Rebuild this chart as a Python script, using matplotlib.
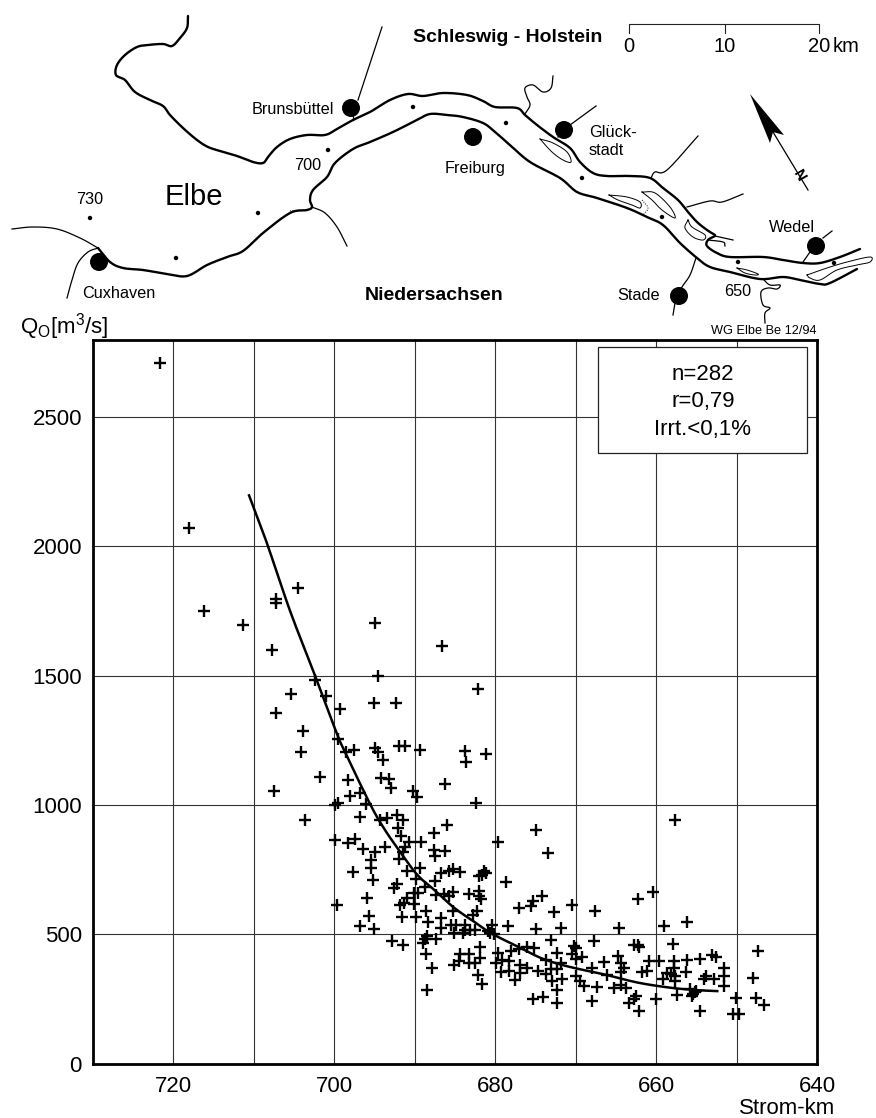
import numpy as np
import matplotlib
matplotlib.use("Agg")
import matplotlib.pyplot as plt
from matplotlib.patches import Polygon, Circle, Rectangle

plt.rcParams['font.family'] = ['Liberation Sans', 'DejaVu Sans']
plt.rcParams['mathtext.fontset'] = 'custom'
plt.rcParams['mathtext.rm'] = 'Liberation Sans'
plt.rcParams['mathtext.it'] = 'Liberation Sans'
plt.rcParams['mathtext.default'] = 'rm'

# --- scatter data: (Strom-km, Q0 m3/s)
points = [
(721.7,2708),(718.1,2070),(716.2,1751),(711.4,1694),
(704.5,1839),(707.3,1798),(707.3,1779),(694.9,1704),(686.6,1616),(707.7,1601),(702.4,1485),(694.6,1498),
(682.1,1450),(705.4,1429),(701.0,1422),(695.1,1394),(692.3,1394),(699.3,1371),(707.2,1354),(703.9,1286),
(699.5,1255),(698.6,1203),(697.5,1214),(704.1,1203),(694.9,1221),(694.6,1206),(693.9,1174),(691.9,1226),
(691.2,1226),(689.3,1212),(683.8,1208),(683.6,1167),(681.1,1196),(701.8,1108),(698.3,1098),(694.2,1103),
(693.2,1100),(692.9,1064),(707.5,1052),(698.0,1036),(696.8,1045),(690.2,1052),(689.7,1030),(686.2,1079),
(682.4,1008),(696.1,1003),(699.9,1000),(699.5,1006),(696.8,952),(703.6,942),(694.3,940),(693.4,949),
(692.2,961),(691.5,942),(692.1,910),(686.0,923),(687.6,893),
(691.7,878),(690.7,856),(689.2,856),(693.7,839),(687.6,824),(686.2,820),(687.5,801),(691.2,836),(691.5,818),
(691.9,791),(691.0,746),(689.3,756),(689.8,715),(692.2,695),(692.6,679),(687.5,707),(686.8,737),(685.8,743),
(685.2,751),(684.4,740),(682.0,724),(681.4,743),(681.6,730),(681.2,737),(678.6,702),(688.7,683),(690.1,659),
(689.6,659),(691.0,640),(691.4,621),(691.8,614),(690.1,618),(687.4,653),(686.4,656),(685.8,647),(685.3,663),
(683.2,656),(682.0,666),(682.0,647),(681.8,636),(688.6,589),(685.2,591),(682.3,591),(682.8,576),(691.6,566),
(689.8,567),(688.3,548),(686.8,561),(686.8,525),(685.5,537),(684.9,537),(683.7,534),(683.7,518),(683.1,518),
(682.5,518),(685.1,505),(684.0,503),(680.9,514),(680.4,534),(680.2,499),(680.6,505),(678.4,531),(677.1,602),
(675.6,611),(675.3,627),(674.2,647),(672.7,585),(670.5,614),(674.9,521),(671.8,525),(673.1,477),(674.9,904),
(673.5,816),(679.7,856),(692.8,473),(691.5,460),(688.7,480),(688.5,492),(689.0,467),(687.4,480),(688.6,424),
(687.8,368),(688.5,284),(684.4,422),(683.3,424),(681.9,450),(681.9,409),(684.5,396),(685.1,381),(683.3,390),
(682.5,390),(682.2,342),(681.6,306),(679.7,426),(679.9,390),(679.2,402),(678.3,396),(678.1,435),(677.1,444),
(676.0,451),(675.2,447),(679.3,354),(678.3,357),(676.9,381),(676.0,370),(676.9,351),(677.5,321),(674.7,357),
(673.7,345),(673.7,402),(673.1,364),(672.3,364),(672.9,319),(671.7,325),(672.3,426),(671.8,390),(670.2,454),
(670.4,422),(670.0,338),(672.3,284),(675.3,251),(674.1,257),(672.3,233),
(657.7,942),(660.4,662),(662.3,638),(667.6,589),(664.6,523),(659.0,531),(656.1,549),(667.7,473),(657.9,464),
(662.7,460),(662.3,458),(662.1,450),(670.0,447),(669.2,413),(670.0,405),(664.7,415),(666.5,393),(664.4,390),
(664.0,370),(664.4,354),(668.0,370),(666.1,341),(669.4,319),(669.0,300),(667.4,297),(665.2,293),(664.4,302),
(663.8,293),(668.0,242),(662.5,261),(663.4,235),(662.7,248),(662.1,203),(661.7,354),(660.9,396),(661.1,357),
(659.6,396),(659.1,325),(658.6,351),(657.8,396),(657.8,370),(658.2,345),(657.6,338),(656.3,354),(656.2,400),
(654.6,405),(657.6,319),(660.0,248),(657.4,265),(655.8,287),(655.0,280),(655.5,261),(655.4,268),(655.2,277),
(654.6,203),(653.0,419),(652.5,413),(651.5,370),(651.5,338),(653.8,338),(654.0,325),(652.8,325),(651.5,300),
(650.1,255),(650.5,190),(649.7,190),(647.3,435),(648.0,332),(647.6,255),(646.6,226),
(699.9,865),(698.3,852),(697.4,869),(696.4,829),(694.9,818),(695.4,788),(695.4,756),(697.7,740),(695.2,711),
(695.9,640),(699.7,613),(695.7,569),(696.8,531),(695.1,521),
]
curve_km = [710.6,708.5,705.5,702.4,699.7,698.6,695.5,693.7,691.8,689.7,687.6,685.1,682.7,680.6,677.3,674.4,671.9,669.4,666.5,662.3,658.2,655.0,652.4]
curve_q  = [2197,2023,1750,1500,1277,1200,1000,903,818,730,672,602,550,505,454,409,383,364,345,313,293,284,280]

x_ticks = [720,710,700,690,680,670,660,650,640]
x_labels = ['720','','700','','680','','660','','640']
y_ticks = [0,500,1000,1500,2000,2500]
stats_lines = ['n=282','r=0,79','Irrt.<0,1%']

# --- map outlines, in map-sheet coordinates
north_bank_a = [(188,16),(187,28),(180,38),(172,46),(163,44),(148,45),(137,47),(125,55),(117,65),(116,75),(125,80),(135,92),(150,100),(163,106),(170,115),(183,128),(197,140),(208,147),(220,151),(237,156),(253,162),(263,163),(268,157),(277,147),(290,139),(307,135),(325,135),(337,129),(353,120),(370,112),(390,100),(408,94),(423,96),(443,93),(467,95),(483,101),(495,107),(517,108),(525,115),(537,125),(553,137),(570,148),(580,162),(593,173),(607,176),(630,176),(650,178),(663,188),(678,200),(688,212),(697,222),(707,230),(715,235)]
north_bank_b = [(715,236),(708,240),(707,246),(717,253),(730,257),(763,257),(783,260),(803,263),(820,263),(840,257),(860,249)]
south_bank = [(98,248),(110,262),(123,268),(143,270),(167,274),(187,276),(207,265),(227,257),(243,251),(263,233),(290,213),(307,210),(312,207),(310,200),(313,190),(327,177),(335,163),(353,149),(370,142),(393,132),(417,120),(430,114),(447,115),(463,117),(483,123),(495,132),(510,145),(530,162),(560,178),(577,192),(597,198),(627,208),(647,217),(663,225),(680,243),(697,258),(710,267),(730,272),(760,279),(783,277),(800,280),(820,284),(830,283),(857,269)]
thin_lines = [
    [(12,229),(33,227),(57,229),(80,238),(98,248)],
    [(67,298),(72,280),(78,263),(88,252),(98,248)],
    [(312,207),(325,213),(337,227),(347,246)],
    [(553,76),(551,88),(543,92),(533,85),(525,88),(527,97),(530,105),(525,114)],
    [(698,136),(667,170),(655,172),(651,178)],
    [(743,194),(722,202),(710,201),(687,207)],
    [(715,236),(733,240)],
    [(708,240),(723,242),(725,246)],
    [(696,258),(690,275),(682,287),(678,296)],
    [(763,279),(770,285),(780,285),(777,289),(768,288),(761,292),(763,305),(770,308),(765,313),(765,323)],
]
straight_lines = [
    [(382,27),(358,100)],[(353,113),(353,120)],
    [(596,106),(570,125)],[(558,137),(560,134)],
    [(832,231),(823,238)],[(810,252),(803,262)],
    [(675,303),(673,315)],[(773,132),(808,190)],
]
islands = [
    [(540,139),(553,143),(567,152),(571,162),(563,160),(552,152)],
    [(609,195),(627,197),(640,202),(640,208),(632,205),(618,200)],
    [(642,192),(655,193),(670,207),(675,218),(662,210),(652,200)],
    [(688,220),(692,227),(705,235),(703,240),(693,237),(685,228)],
    [(737,268),(747,270),(758,274),(755,275),(745,273)],
    [(807,275),(827,268),(847,262),(870,257),(870,262),(857,265),(837,270),(820,280),(810,278)],
]
dotted_lines = [[(642,200),(648,208),(643,215)],[(290,211),(300,210)]]
towns = [(351,108),(99,262),(473,137),(564,130),(679,296),(816,246)]
km_marks = [(90,218),(176,258),(258,213),(328,150),(413,107),(506,123),(582,178),(662,217),(738,262),(834,263)]
arrow_head = [(750,94),(784,135),(773,132),(770,143)]
scale_bar = [(629,33),(629,24),(819,24),(819,33)]
scale_tick = [(725,24),(725,33)]
map_labels = [
    ('Schleswig - Holstein',508,38,14,'bold'),('Niedersachsen',434,296,14,'bold'),
    ('Elbe',194,197,21,'normal'),('730',90,199,11.7,'normal'),('700',308,165,11.7,'normal'),('650',738,292,11.7,'normal'),
    ('Brunsbüttel',293,110,11.7,'normal'),('Cuxhaven',119,294,11.7,'normal'),('Freiburg',475,168,11.7,'normal'),
    ('Wedel',792,227,11.7,'normal'),('Stade',639,296,11.7,'normal'),
    ('WG Elbe Be 12/94',764,331,9.2,'normal'),
    ('0',629,47,14.5,'normal'),('10',725,47,14.5,'normal'),('20',819,47,14.5,'normal'),
]


def smooth(pts, n=12):
    """Catmull-Rom sampling through the given vertices."""
    p = np.asarray(pts, float)
    p = np.vstack([2*p[0]-p[1], p, 2*p[-1]-p[-2]])
    out = []
    t = np.linspace(0, 1, n, endpoint=False)[:, None]
    for i in range(1, len(p)-2):
        a, b, c, d = p[i-1], p[i], p[i+1], p[i+2]
        out.append(0.5*(2*b+(c-a)*t+(2*a-5*b+4*c-d)*t**2+(3*b-a-3*c+d)*t**3))
    out.append(p[-2:-1])
    return np.vstack(out)


W, H = 876, 1118
fig = plt.figure(figsize=(W/100, H/100), dpi=100)
ax = fig.add_axes([93/W, 1-1063.5/H, (817-93)/W, (1063.5-340)/H])
km = [p[0] for p in points]
q = [p[1] for p in points]
ax.set_xlim(730, 640)
ax.set_ylim(0, 2798)
ax.set_xticks(x_ticks)
ax.set_xticklabels(x_labels, fontsize=16)
ax.set_yticks(y_ticks)
ax.set_yticklabels([str(v) for v in y_ticks], fontsize=16)
ax.tick_params(length=0)
ax.tick_params(axis='x', pad=9)
ax.tick_params(axis='y', pad=8)
ax.grid(True, color='#333333', lw=0.8)
ax.set_axisbelow(True)
for s in ax.spines.values():
    s.set_linewidth(2.0)
    s.set_color('black')
ax.plot(km, q, ls='none', marker='+', ms=8.8, mew=1.7, color='black', zorder=3)
cv = smooth(list(zip(curve_km, curve_q)))
ax.plot(cv[:, 0], cv[:, 1], color='black', lw=1.8, zorder=4)

# Map layer over the whole sheet
m = fig.add_axes([0, 0, 1, 1], facecolor='none')
m.set_xlim(0, W)
m.set_ylim(H, 0)
m.axis('off')
for line in (north_bank_a, north_bank_b, south_bank):
    s = smooth(line)
    m.plot(s[:, 0], s[:, 1], color='black', lw=1.7, solid_capstyle='round')
for line in thin_lines:
    s = smooth(line)
    m.plot(s[:, 0], s[:, 1], color='black', lw=0.9)
for line in straight_lines:
    s = np.array(line)
    m.plot(s[:, 0], s[:, 1], color='black', lw=0.9)
for isl in islands:
    s = smooth(isl + [isl[0]])
    m.plot(s[:, 0], s[:, 1], color='black', lw=0.7)
for line in dotted_lines:
    s = smooth(line)
    m.plot(s[:, 0], s[:, 1], color='black', lw=0.7, ls=(0, (1, 1.5)))
for xy in towns:
    m.add_patch(Circle(xy, 9, color='black', lw=0, zorder=5))
for xy in km_marks:
    m.add_patch(Circle(xy, 2.2, color='black', lw=0, zorder=5))
m.add_patch(Polygon(arrow_head, closed=True, color='black', lw=0))
for line in (scale_bar, scale_tick):
    s = np.array(line)
    m.plot(s[:, 0], s[:, 1], color='#222222', lw=0.8)
for t, x, y, fs, w in map_labels:
    m.text(x, y, t, fontsize=fs, fontweight=w, ha='center', va='center')
m.text(589, 141.5, 'Glück-\nstadt', fontsize=11.7, ha='left', va='center', linespacing=1.3)
m.text(846, 47, 'km', fontsize=14.5, ha='center', va='center')
m.text(799, 176, 'N', fontsize=11, fontweight='bold', rotation=-60, ha='center', va='center')

# Axis annotations and box
m.text(20, 327, r'$\mathrm{Q_{O}[m^{3}/s]}$', fontsize=16, ha='left', va='center')
m.text(835, 1108.5, 'Strom-km', fontsize=16, ha='right', va='center')
m.add_patch(Rectangle((598, 347), 209, 106, fc='white', ec='#222222', lw=0.9, zorder=6))
for t, y in zip(stats_lines, (375, 402, 430)):
    m.text(703, y, t, fontsize=16, ha='center', va='center', zorder=7)

fig.savefig('out.png', dpi=100)
